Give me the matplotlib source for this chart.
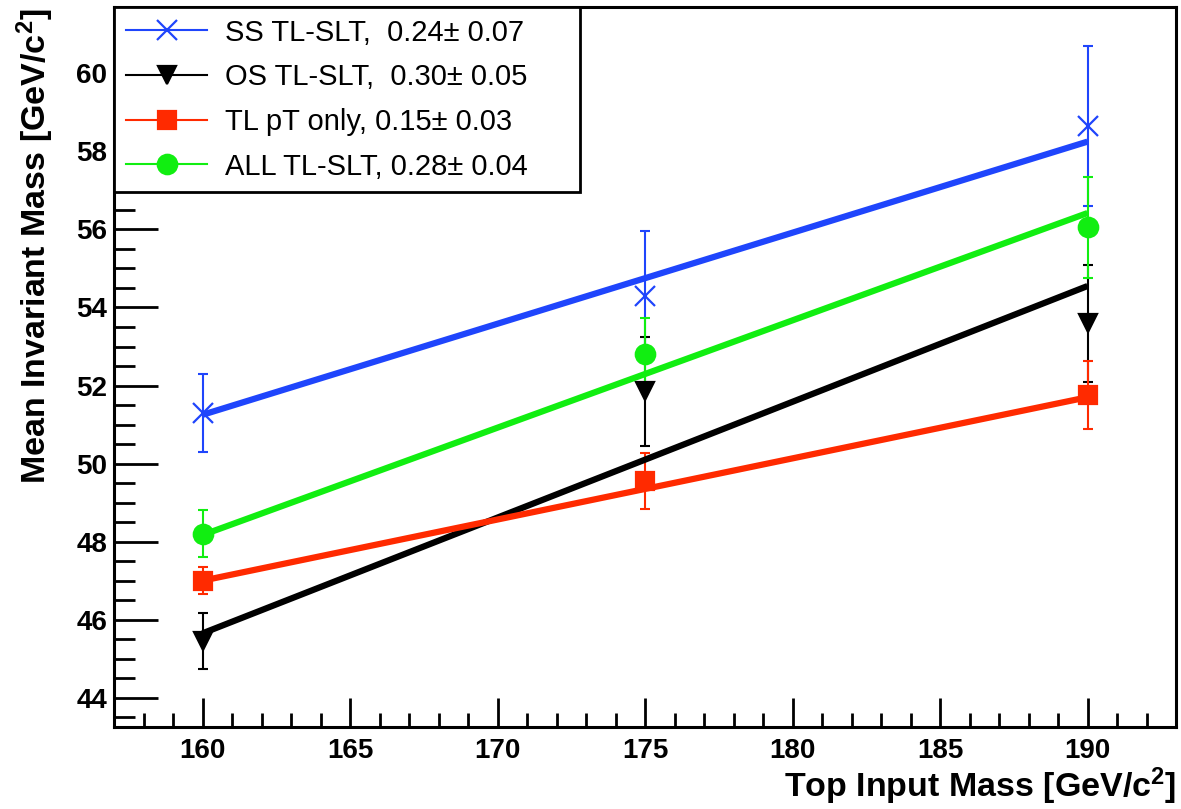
"""Mean invariant mass vs top input mass, with linear fits per selection."""
import matplotlib.pyplot as plt
from matplotlib.lines import Line2D
from matplotlib.ticker import MultipleLocator

top_mass = [160, 175, 190]

ss_mean = [51.3, 54.3, 58.65]
ss_err = [1.0, 1.65, 2.05]
os_mean = [45.45, 51.85, 53.6]
os_err = [0.72, 1.4, 1.5]
pt_mean = [47.0, 49.55, 51.76]
pt_err = [0.35, 0.72, 0.88]
all_mean = [48.2, 52.8, 56.05]
all_err = [0.6, 0.93, 1.3]

# fitted straight lines, read at the end points 160 and 190
fit_x = [160, 190]
ss_fit = [51.25, 58.25]
os_fit = [45.65, 54.55]
pt_fit = [47.0, 51.7]
all_fit = [48.17, 56.42]

labels = [
    "SS TL-SLT,  0.24\u00b1 0.07",
    "OS TL-SLT,  0.30\u00b1 0.05",
    "TL pT only, 0.15\u00b1 0.03",
    "ALL TL-SLT, 0.28\u00b1 0.04",
]

BLUE = "#1f45fc"
BLACK = "#000000"
RED = "#ff2a00"
GREEN = "#11ee11"


def main() -> None:
    plt.rcParams["font.family"] = ["Liberation Sans", "DejaVu Sans"]
    plt.rcParams["mathtext.fontset"] = "custom"
    plt.rcParams["mathtext.rm"] = "Liberation Sans:bold"
    plt.rcParams["mathtext.it"] = "Liberation Sans:bold"

    fig = plt.figure(figsize=(11.81, 8.09), dpi=100)
    ax = fig.add_axes([114 / 1181, 1 - 727 / 809, 1062 / 1181, 720 / 809])

    series = [
        (ss_mean, ss_err, ss_fit, BLUE, "x", 15),
        (os_mean, os_err, os_fit, BLACK, "v", 13),
        (pt_mean, pt_err, pt_fit, RED, "s", 13),
        (all_mean, all_err, all_fit, GREEN, "o", 14),
    ]
    handles = []
    for mean, err, fit, color, marker, ms in series:
        ax.errorbar(top_mass, mean, yerr=err, fmt="none", ecolor=color,
                    elinewidth=1.5, capsize=3.5, capthick=1.5, zorder=2)
        ax.plot(top_mass, mean, linestyle="none", marker=marker, color=color,
                markersize=ms, markeredgewidth=1.6, zorder=3)
        ax.plot(fit_x, fit, color=color, linewidth=4.5, zorder=4,
                solid_capstyle="butt")
        handles.append(Line2D([], [], color=color, linewidth=1.5, marker=marker,
                              markersize=ms, markeredgewidth=1.6))

    ax.set_xlim(157, 193)
    ax.set_ylim(43.25, 61.7)
    ax.xaxis.set_major_locator(MultipleLocator(5))
    ax.xaxis.set_minor_locator(MultipleLocator(1))
    ax.yaxis.set_major_locator(MultipleLocator(2))
    ax.yaxis.set_minor_locator(MultipleLocator(0.5))
    ax.tick_params(axis="both", which="both", direction="in", width=2,
                   labelsize=20, top=False, right=False)
    ax.tick_params(axis="x", which="major", length=21, pad=8)
    ax.tick_params(axis="x", which="minor", length=10)
    ax.tick_params(axis="y", which="major", length=32, pad=5)
    ax.tick_params(axis="y", which="minor", length=15)
    for lab in ax.get_xticklabels() + ax.get_yticklabels():
        lab.set_fontweight("bold")
    for side in ["left", "bottom", "right", "top"]:
        ax.spines[side].set_linewidth(2.2)

    # legend box spans from the left spine to x = 580 px, like the ROOT TLegend
    leg = ax.legend(handles, labels, loc="upper left",
                    bbox_to_anchor=(0, 0, 466 / 1062, 1), mode="expand",
                    borderaxespad=0, fontsize=21, frameon=True, fancybox=False,
                    framealpha=1, handlelength=2.8, handletextpad=0.6,
                    labelspacing=0.57, borderpad=0.4)
    leg.get_frame().set_edgecolor("black")
    leg.get_frame().set_linewidth(2)
    leg.set_zorder(10)

    fig.text(1176 / 1181, 1 - 797 / 809, r"Top Input Mass [GeV/c$^{2}$]",
             ha="right", va="baseline", fontsize=24.5, fontweight="bold")
    fig.text(35 / 1181, 1 - 8 / 809, r"Mean Invariant Mass [GeV/c$^{2}$]",
             ha="center", va="top", rotation=90, fontsize=24.5,
             fontweight="bold")

    fig.savefig("out.png", dpi=100)
    plt.close(fig)


if __name__ == "__main__":
    main()
